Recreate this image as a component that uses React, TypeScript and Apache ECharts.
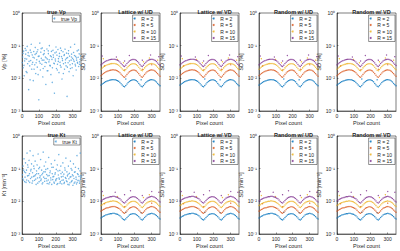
import React, { useEffect, useRef } from "react";
import * as echarts from "echarts";

const PIXELS = [0,7,14,21,28,35,42,49,56,63,70,77,84,91,98,105,112,119,126,133,140,147,154,161,168,175,182,189,196,203,210,217,224,231,238,245,252,259,266,273,280,287,294,301,308,315,322,329,336,343,350];

const TOP_TITLES = ["true Vp", "Lattice w/ UD", "Lattice w/ VD", "Random w/ UD", "Random w/ VD"];
const BOTTOM_TITLES = ["true Kt", "Lattice w/ UD", "Lattice w/ VD", "Random w/ UD", "Random w/ VD"];
const R_NAMES = ["R = 2", "R = 5", "R = 10", "R = 15"];
const R_COLORS = ["#0072BD", "#D95319", "#EDB120", "#7E2F8E"];

const SD_VP_R2 = [0.0062,0.0067,0.0071,0.0075,0.0079,0.0082,0.0085,0.0087,0.0089,0.0090,0.0091,0.0091,0.0090,0.0088,0.0085,0.0081,0.0075,0.0068,0.0062,0.0057,0.0055,0.0060,0.0067,0.0074,0.0080,0.0085,0.0088,0.0090,0.0090,0.0088,0.0084,0.0078,0.0070,0.0063,0.0057,0.0055,0.0060,0.0067,0.0074,0.0080,0.0085,0.0088,0.0090,0.0091,0.0090,0.0087,0.0083,0.0077,0.0070,0.0064,0.0059];
const SD_VP_R5 = [0.0120,0.0131,0.0140,0.0148,0.0156,0.0163,0.0169,0.0174,0.0178,0.0180,0.0182,0.0181,0.0179,0.0175,0.0169,0.0160,0.0148,0.0134,0.0122,0.0112,0.0108,0.0118,0.0132,0.0146,0.0158,0.0168,0.0175,0.0179,0.0179,0.0175,0.0167,0.0154,0.0139,0.0124,0.0112,0.0108,0.0118,0.0132,0.0146,0.0158,0.0168,0.0175,0.0179,0.0181,0.0179,0.0173,0.0164,0.0152,0.0139,0.0126,0.0116];
const SD_VP_R10 = [0.0190,0.0207,0.0221,0.0234,0.0246,0.0256,0.0265,0.0272,0.0278,0.0282,0.0284,0.0283,0.0280,0.0274,0.0265,0.0252,0.0234,0.0212,0.0193,0.0177,0.0171,0.0187,0.0209,0.0230,0.0249,0.0264,0.0274,0.0280,0.0280,0.0274,0.0262,0.0243,0.0219,0.0196,0.0177,0.0171,0.0187,0.0209,0.0230,0.0249,0.0264,0.0274,0.0280,0.0283,0.0280,0.0271,0.0258,0.0240,0.0218,0.0198,0.0183];
const SD_VP_R15 = [0.0258,0.0281,0.0300,0.0317,0.0333,0.0347,0.0358,0.0368,0.0376,0.0381,0.0384,0.0383,0.0379,0.0371,0.0358,0.0341,0.0317,0.0287,0.0261,0.0240,0.0232,0.0253,0.0283,0.0311,0.0337,0.0357,0.0371,0.0379,0.0379,0.0371,0.0354,0.0329,0.0296,0.0265,0.0240,0.0232,0.0253,0.0283,0.0311,0.0337,0.0357,0.0371,0.0379,0.0383,0.0379,0.0367,0.0349,0.0325,0.0295,0.0268,0.0248];

const SD_KT_R2 = [0.0031,0.0033,0.0035,0.0036,0.0038,0.0039,0.0040,0.0041,0.0042,0.0042,0.0043,0.0043,0.0042,0.0041,0.0040,0.0038,0.0036,0.0033,0.0030,0.0028,0.0027,0.0029,0.0032,0.0035,0.0038,0.0040,0.0041,0.0042,0.0042,0.0041,0.0039,0.0037,0.0034,0.0031,0.0028,0.0027,0.0029,0.0032,0.0035,0.0038,0.0040,0.0041,0.0042,0.0043,0.0042,0.0041,0.0039,0.0037,0.0034,0.0031,0.0029];
const SD_KT_R5 = [0.0050,0.0053,0.0056,0.0058,0.0061,0.0063,0.0064,0.0066,0.0067,0.0068,0.0069,0.0069,0.0068,0.0066,0.0064,0.0061,0.0058,0.0053,0.0048,0.0045,0.0043,0.0046,0.0051,0.0056,0.0061,0.0064,0.0066,0.0068,0.0068,0.0066,0.0063,0.0059,0.0054,0.0050,0.0045,0.0043,0.0046,0.0051,0.0056,0.0061,0.0064,0.0066,0.0068,0.0069,0.0068,0.0066,0.0063,0.0059,0.0054,0.0050,0.0046];
const SD_KT_R10 = [0.0074,0.0079,0.0084,0.0087,0.0091,0.0094,0.0096,0.0098,0.0101,0.0101,0.0103,0.0103,0.0101,0.0098,0.0096,0.0091,0.0086,0.0079,0.0072,0.0067,0.0065,0.0070,0.0077,0.0084,0.0091,0.0096,0.0098,0.0101,0.0101,0.0098,0.0094,0.0089,0.0082,0.0074,0.0067,0.0065,0.0070,0.0077,0.0084,0.0091,0.0096,0.0098,0.0101,0.0103,0.0101,0.0098,0.0094,0.0089,0.0082,0.0074,0.0070];
const SD_KT_R15 = [0.0102,0.0109,0.0115,0.0119,0.0125,0.0129,0.0132,0.0135,0.0139,0.0139,0.0142,0.0142,0.0139,0.0135,0.0132,0.0125,0.0119,0.0109,0.0099,0.0092,0.0089,0.0096,0.0106,0.0115,0.0125,0.0132,0.0135,0.0139,0.0139,0.0135,0.0129,0.0122,0.0112,0.0102,0.0092,0.0089,0.0096,0.0106,0.0115,0.0125,0.0132,0.0135,0.0139,0.0142,0.0139,0.0135,0.0129,0.0122,0.0112,0.0102,0.0096];

const OUT_VP_R2 = [[147,0.0095],[238,0.009]];
const OUT_VP_R5 = [[21,0.024],[140,0.018],[245,0.019],[301,0.026]];
const OUT_VP_R10 = [[14,0.04],[98,0.038],[133,0.03],[252,0.032],[287,0.042],[336,0.036]];
const OUT_VP_R15 = [[7,0.048],[91,0.045],[140,0.034],[168,0.05],[245,0.036],[294,0.052],[343,0.046]];
const OUT_KT_R2 = [[147,0.0046],[238,0.0045]];
const OUT_KT_R5 = [[21,0.0085],[140,0.0068],[301,0.0088]];
const OUT_KT_R10 = [[14,0.015],[98,0.014],[252,0.013],[287,0.016]];
const OUT_KT_R15 = [[7,0.02],[84,0.019],[140,0.016],[175,0.021],[245,0.015],[301,0.02],[343,0.019]];

const TRUE_VP = [[3,0.045],[6,0.021],[9,0.068],[12,0.012],[15,0.034],[18,0.082],[21,0.055],[24,0.016],[27,0.039],[30,0.095],[33,0.028],[36,0.061],[39,0.0045],[42,0.048],[45,0.024],[48,0.073],[51,0.035],[54,0.11],[57,0.019],[60,0.052],[63,0.031],[66,0.0085],[69,0.066],[72,0.042],[75,0.026],[78,0.088],[81,0.014],[84,0.058],[87,0.037],[90,0.022],[93,0.075],[96,0.047],[99,0.0022],[102,0.033],[105,0.12],[108,0.018],[111,0.063],[114,0.041],[117,0.027],[120,0.085],[123,0.011],[126,0.053],[129,0.036],[132,0.07],[135,0.023],[138,0.045],[141,0.0065],[144,0.03],[147,0.079],[150,0.039],[153,0.017],[156,0.057],[159,0.032],[162,0.1],[165,0.025],[168,0.049],[171,0.013],[174,0.067],[177,0.038],[180,0.021],[183,0.072],[186,0.044],[189,0.029],[192,0.0035],[195,0.06],[198,0.034],[201,0.091],[204,0.02],[207,0.051],[210,0.027],[213,0.076],[216,0.04],[219,0.015],[222,0.058],[225,0.031],[228,0.084],[231,0.022],[234,0.046],[237,0.0095],[240,0.035],[243,0.065],[246,0.028],[249,0.05],[252,0.019],[255,0.078],[258,0.037],[261,0.024],[264,0.059],[267,0.0028],[270,0.043],[273,0.03],[276,0.07],[279,0.016],[282,0.048],[285,0.026],[288,0.09],[291,0.036],[294,0.055],[297,0.021],[300,0.041],[303,0.012],[306,0.062],[309,0.033],[312,0.11],[315,0.027],[318,0.047],[321,0.018],[324,0.036],[327,0.069],[330,0.029],[333,0.044],[336,0.023],[339,0.056],[342,0.032],[345,0.038],[348,0.025],
[1,0.03],[5,0.058],[11,0.025],[17,0.04],[23,0.072],[29,0.015],[35,0.05],[41,0.033],[47,0.009],[53,0.062],[59,0.027],[65,0.044],[71,0.019],[77,0.054],[83,0.03],[89,0.065],[95,0.013],[101,0.048],[107,0.029],[113,0.081],[119,0.036],[125,0.02],[131,0.057],[137,0.031],[143,0.042],[149,0.017],[155,0.069],[161,0.037],[167,0.024],[173,0.046],[179,0.0075],[185,0.052],[191,0.028],[197,0.039],[203,0.064],[209,0.018],[215,0.033],[221,0.047],[227,0.025],[233,0.071],[239,0.04],[245,0.014],[251,0.053],[257,0.03],[263,0.041],[269,0.022],[275,0.057],[281,0.034],[287,0.02],[293,0.045],[299,0.028],[305,0.037],[311,0.05],[317,0.024],[323,0.042],[329,0.031],[335,0.074],[341,0.027],[347,0.049]];

const TRUE_KT = [[2,0.065],[5,0.12],[8,0.045],[11,0.2],[14,0.08],[17,0.055],[20,0.15],[23,0.038],[26,0.09],[29,0.3],[32,0.06],[35,0.11],[38,0.042],[41,0.18],[44,0.07],[47,0.35],[50,0.05],[53,0.095],[56,0.14],[59,0.036],[62,0.075],[65,0.25],[68,0.058],[71,0.1],[74,0.044],[77,0.17],[80,0.065],[83,0.033],[86,0.085],[89,0.13],[92,0.052],[95,0.28],[98,0.07],[101,0.04],[104,0.11],[107,0.06],[110,0.19],[113,0.048],[116,0.09],[119,0.034],[122,0.072],[125,0.32],[128,0.055],[131,0.12],[134,0.041],[137,0.08],[140,0.16],[143,0.05],[146,0.066],[149,0.035],[152,0.1],[155,0.045],[158,0.22],[161,0.062],[164,0.038],[167,0.085],[170,0.052],[173,0.14],[176,0.033],[179,0.07],[182,0.046],[185,0.11],[188,0.058],[191,0.036],[194,0.18],[197,0.075],[200,0.043],[203,0.095],[206,0.05],[209,0.13],[212,0.035],[215,0.064],[218,0.27],[221,0.048],[224,0.088],[227,0.04],[230,0.12],[233,0.056],[236,0.034],[239,0.078],[242,0.15],[245,0.045],[248,0.068],[251,0.038],[254,0.105],[257,0.053],[260,0.21],[263,0.042],[266,0.08],[269,0.06],[272,0.033],[275,0.12],[278,0.049],[281,0.072],[284,0.037],[287,0.17],[290,0.057],[293,0.04],[296,0.09],[299,0.065],[302,0.031],[305,0.14],[308,0.05],[311,0.078],[314,0.039],[317,0.11],[320,0.055],[323,0.034],[326,0.25],[329,0.07],[332,0.044],[335,0.1],[338,0.058],[341,0.036],[344,0.085],[347,0.048],[350,0.062],
[3,0.05],[9,0.09],[15,0.04],[21,0.075],[27,0.045],[33,0.13],[39,0.062],[45,0.038],[51,0.085],[57,0.055],[63,0.042],[69,0.12],[75,0.06],[81,0.048],[87,0.07],[93,0.036],[99,0.1],[105,0.053],[111,0.043],[117,0.065],[123,0.037],[129,0.08],[135,0.05],[141,0.095],[147,0.042],[153,0.06],[159,0.034],[165,0.075],[171,0.045],[177,0.11],[183,0.056],[189,0.039],[195,0.068],[201,0.047],[207,0.033],[213,0.085],[219,0.052],[225,0.036],[231,0.07],[237,0.044],[243,0.058],[249,0.035],[255,0.09],[261,0.05],[267,0.04],[273,0.067],[279,0.032],[285,0.055],[291,0.1],[297,0.043],[303,0.06],[309,0.036],[315,0.08],[321,0.047],[327,0.038],[333,0.066],[339,0.042],[345,0.3],[349,0.055]];

const GRID_LEFTS = [22, 101, 180, 259, 337];
const GRID_W = 59;
const ROW_TOPS = [13, 136];
const GRID_H = 98;

const FONT = "Liberation Sans, Arial, sans-serif";
const TXT = "#262626";

function supLabel(v: number): string {
  const e = Math.round(Math.log10(v));
  const map: Record<string, string> = { "0": "⁰", "-1": "⁻¹", "-2": "⁻²", "-3": "⁻³" };
  return "10" + (map[String(e)] ?? String(e));
}

function pairs(ys: number[], extra: number[][]): number[][] {
  return PIXELS.map((x, i) => [x, ys[i]]).concat(extra);
}

export default function App() {
  const ref = useRef<HTMLDivElement>(null);
  useEffect(() => {
    if (!ref.current) return;
    const chart = echarts.init(ref.current, null, { renderer: "svg" });
    const grids: any[] = [];
    const xAxes: any[] = [];
    const yAxes: any[] = [];
    const titles: any[] = [];
    const legends: any[] = [];
    const series: any[] = [];
    const rowSets = [
      { titles: TOP_TITLES, trueName: "true Vp", trueData: TRUE_VP, trueLabel: "Vp [%]", sdLabel: "SD [%]",
        sd: [pairs(SD_VP_R2, OUT_VP_R2), pairs(SD_VP_R5, OUT_VP_R5), pairs(SD_VP_R10, OUT_VP_R10), pairs(SD_VP_R15, OUT_VP_R15)] },
      { titles: BOTTOM_TITLES, trueName: "true Kt", trueData: TRUE_KT, trueLabel: "Kt [min⁻¹]", sdLabel: "SD [min⁻¹]",
        sd: [pairs(SD_KT_R2, OUT_KT_R2), pairs(SD_KT_R5, OUT_KT_R5), pairs(SD_KT_R10, OUT_KT_R10), pairs(SD_KT_R15, OUT_KT_R15)] },
    ];
    let idx = 0;
    rowSets.forEach((row, r) => {
      GRID_LEFTS.forEach((left, c) => {
        const top = ROW_TOPS[r];
        grids.push({ left, top, width: GRID_W, height: GRID_H, show: true, borderColor: TXT, borderWidth: 0.6, backgroundColor: "#fff" });
        xAxes.push({
          type: "value", gridIndex: idx, min: 0, max: 350, interval: 100,
          name: "Pixel count", nameLocation: "middle", nameGap: 9,
          nameTextStyle: { fontSize: 5.5, color: TXT, fontFamily: FONT },
          axisLine: { lineStyle: { color: TXT, width: 0.6 } },
          axisTick: { inside: true, length: 1.5, lineStyle: { color: TXT, width: 0.5 } },
          axisLabel: { fontSize: 5, margin: 2, color: TXT, fontFamily: FONT, showMaxLabel: false },
          splitLine: { show: false },
        });
        yAxes.push({
          type: "log", logBase: 10, gridIndex: idx, min: 0.001, max: 1,
          name: c === 0 ? row.trueLabel : row.sdLabel, nameLocation: "middle", nameGap: 12, nameRotate: 90,
          nameTextStyle: { fontSize: 5.5, color: TXT, fontFamily: FONT },
          axisLine: { lineStyle: { color: TXT, width: 0.6 } },
          axisTick: { inside: true, length: 1.5, lineStyle: { color: TXT, width: 0.5 } },
          axisLabel: { fontSize: 5, margin: 2, color: TXT, fontFamily: FONT, formatter: supLabel },
          splitLine: { show: false },
        });
        titles.push({
          text: row.titles[c], left: left + GRID_W / 2, top: top - 9, textAlign: "center",
          textStyle: { fontSize: 5.5, fontWeight: "bold", color: TXT, fontFamily: FONT },
        });
        const legendCommon = {
          orient: "vertical", right: 400 - (left + GRID_W) + 1, top: top + 2,
          backgroundColor: "#fff", borderColor: TXT, borderWidth: 0.5, borderRadius: 0,
          padding: [1, 3, 1, 1], itemGap: 1.5, itemWidth: 5, itemHeight: 2, icon: "circle",
          selectedMode: false,
          textStyle: { fontSize: 5, color: TXT, fontFamily: FONT, padding: [0, 0, 0, -1] },
        };
        if (c === 0) {
          legends.push({ ...legendCommon, data: [row.trueName] });
          series.push({
            type: "scatter", name: row.trueName, xAxisIndex: idx, yAxisIndex: idx,
            data: row.trueData, symbol: "circle", symbolSize: 1.4,
            itemStyle: { color: "#4a9fdc" },
          });
        } else {
          legends.push({ ...legendCommon, data: R_NAMES });
          row.sd.forEach((d, k) => {
            series.push({
              type: "scatter", name: R_NAMES[k], xAxisIndex: idx, yAxisIndex: idx,
              data: d, symbol: "circle", symbolSize: 1.3,
              itemStyle: { color: R_COLORS[k], opacity: 0.85 },
            });
          });
        }
        idx++;
      });
    });
    chart.setOption({
      animation: false,
      backgroundColor: "#fff",
      textStyle: { fontFamily: FONT },
      grid: grids, xAxis: xAxes, yAxis: yAxes, title: titles, legend: legends, series,
    });
    return () => chart.dispose();
  }, []);
  return <div ref={ref} style={{ position: "fixed", left: 0, top: 0, width: 400, height: 251 }} />;
}
